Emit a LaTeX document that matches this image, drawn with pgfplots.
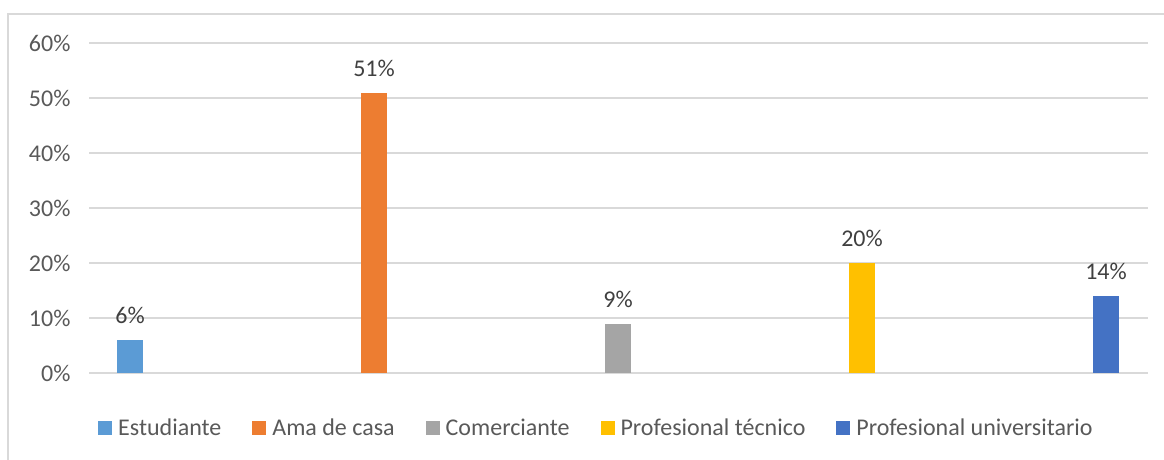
\documentclass[border=0pt]{standalone}
\usepackage{pgfplots}
\pgfplotsset{compat=1.18}
\usepackage{fontspec}
\setmainfont{Carlito}

\definecolor{cEst}{HTML}{5B9BD5}
\definecolor{cAma}{HTML}{ED7D31}
\definecolor{cCom}{HTML}{A5A5A5}
\definecolor{cTec}{HTML}{FFC000}
\definecolor{cUni}{HTML}{4472C4}
\definecolor{gridgray}{HTML}{D9D9D9}
\definecolor{ticktext}{HTML}{595959}
\definecolor{labeltext}{HTML}{404040}

\newcommand{\chartfont}{\fontsize{24}{28}\selectfont}

\begin{document}
\begin{tikzpicture}[x=1pt,y=1pt]
\useasboundingbox (0,0) rectangle (1164,459);
\begin{scope}
  \clip (0,0) rectangle (1164,459);
  \draw[gridgray, line width=2pt] (8,445) rectangle (1200,-30);
\end{scope}
\begin{axis}[
    at={(89pt,86pt)}, anchor=south west,
    scale only axis,
    width=1059pt, height=330pt,
    xmin=-0.168, xmax=4.172,
    ymin=0, ymax=60,
    xtick=\empty,
    ytick={0,10,20,30,40,50,60},
    yticklabel={\pgfmathprintnumber{\tick}\%},
    /pgf/number format/assume math mode=true,
    major tick length=0pt,
    axis line style={draw=none},
    ymajorgrids=true,
    grid style={gridgray, line width=1.4pt},
    tick label style={font=\chartfont, text=ticktext},
    yticklabel style={xshift=-15pt},
    legend columns=5,
    legend style={
        at={(0.0085,-0.1667)}, anchor=west,
        draw=none, fill=none, inner sep=0pt,
        font=\chartfont, text=ticktext,
        nodes={inner sep=0pt},
        /tikz/every odd column/.append style={column sep=6pt},
        /tikz/every even column/.append style={column sep=31pt},
    },
    legend image code/.code={\fill[#1] (0pt,-7pt) rectangle (14pt,7pt);},
    nodes near coords={\pgfmathprintnumber{\pgfplotspointmeta}\%},
    every node near coord/.append style={
        font=\chartfont, text=labeltext, inner sep=0pt, yshift=16pt,
        /pgf/number format/assume math mode=true},
]
\addplot[ybar, bar width=26pt, bar shift=0pt, fill=cEst, draw=none] coordinates {(0,6)};
\addplot[ybar, bar width=26pt, bar shift=0pt, fill=cAma, draw=none] coordinates {(1,51)};
\addplot[ybar, bar width=26pt, bar shift=0pt, fill=cCom, draw=none] coordinates {(2,9)};
\addplot[ybar, bar width=26pt, bar shift=0pt, fill=cTec, draw=none] coordinates {(3,20)};
\addplot[ybar, bar width=26pt, bar shift=0pt, fill=cUni, draw=none] coordinates {(4,14)};
\legend{Estudiante, Ama de casa, Comerciante, Profesional técnico, Profesional universitario}
\end{axis}
\end{tikzpicture}
\end{document}
